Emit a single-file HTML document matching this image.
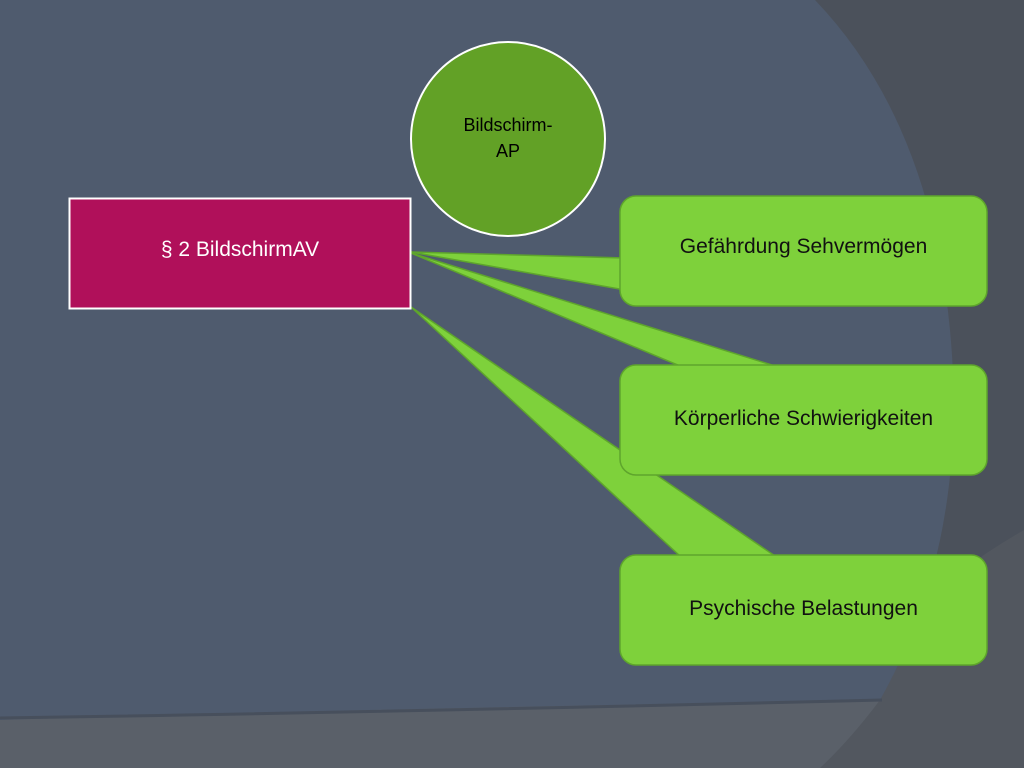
<!DOCTYPE html>
<html><head><meta charset="utf-8"><style>
body{margin:0;width:1024px;height:768px;overflow:hidden;background:#4a515b;font-family:"Liberation Sans",sans-serif}
svg{position:absolute;left:0;top:0}
.t{position:absolute;display:flex;align-items:center;justify-content:center;text-align:center}
</style></head><body>
<svg width="1024" height="768">
<rect width="1024" height="768" fill="#4b515b"/>
<path d="M1024 530 Q900 600 760 768 L1024 768Z" fill="#52575f"/>
<path d="M0 0 L815 0 Q930 120 950 330 Q970 540 880 700 L0 720Z" fill="#4f5b6e"/>
<path d="M0 720 Q300 710 880 700 Q850 740 820 768 L0 768Z" fill="#5a6069"/>
<path d="M0 718 Q400 712 882 700" stroke="#474f5c" stroke-width="3" fill="none"/>
<g fill="#7ed13b" stroke="#5ea52c" stroke-width="1.5">
<path d="M411 252 L625 258 L625 290Z"/>
<path d="M411 253 L680 366 L775 366Z"/>
<path d="M411 307 L680 556 L775 556Z"/>
<rect x="620" y="196" width="367" height="110" rx="16"/>
<rect x="620" y="365" width="367" height="110" rx="16"/>
<rect x="620" y="555" width="367" height="110" rx="16"/>
</g>
<rect x="69.5" y="198.5" width="341" height="110" fill="#b0105a" stroke="#fff" stroke-width="2"/>
<circle cx="508" cy="139" r="97" fill="#62a126" stroke="#fff" stroke-width="2"/>
</svg>
<div class="t" style="left:70px;top:199px;width:340px;height:110px;color:#fff;font-size:21px;padding-bottom:8px;box-sizing:border-box">§ 2 BildschirmAV</div>
<div class="t" style="left:420px;top:112px;width:176px;font-size:18px;line-height:26px;color:#000">Bildschirm-<br>AP</div>
<div class="t" style="left:620px;top:196px;width:367px;height:110px;font-size:21px;color:#111;padding-bottom:8px;box-sizing:border-box">Gefährdung Sehvermögen</div>
<div class="t" style="left:620px;top:365px;width:367px;height:110px;font-size:21px;color:#111;padding-bottom:2px;box-sizing:border-box">Körperliche Schwierigkeiten</div>
<div class="t" style="left:620px;top:555px;width:367px;height:110px;font-size:21px;color:#111;padding-bottom:2px;box-sizing:border-box">Psychische Belastungen</div>
</body></html>
